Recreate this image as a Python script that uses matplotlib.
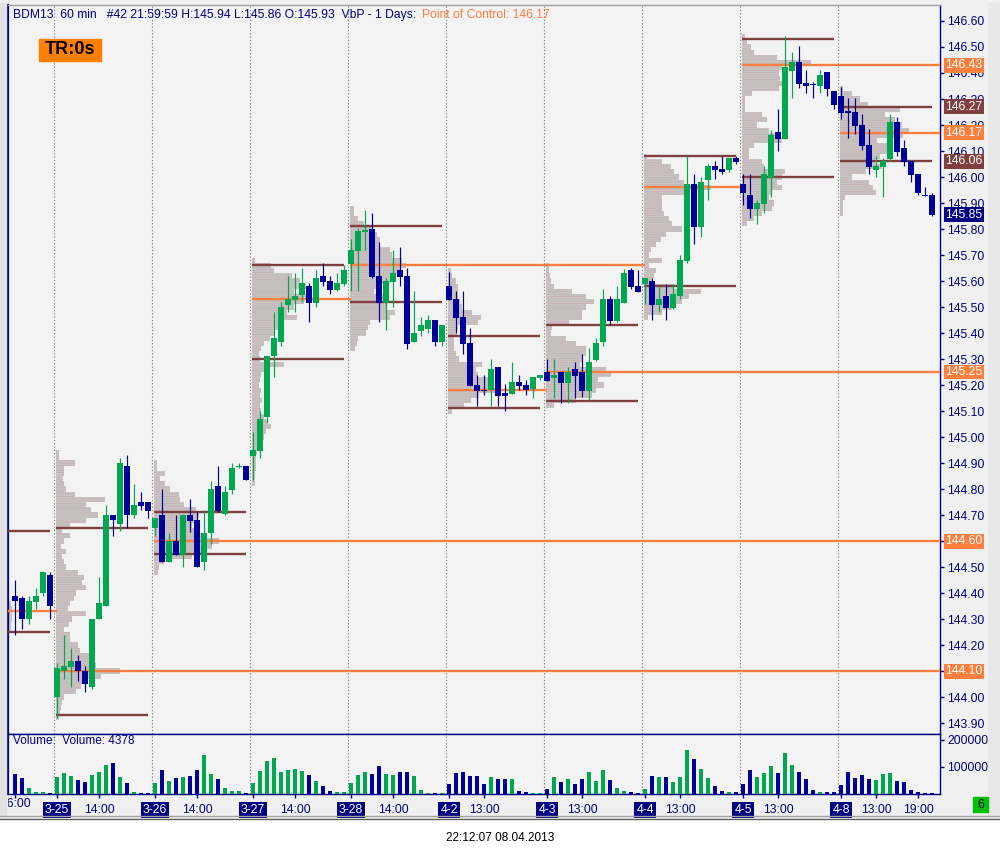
import numpy as np
import matplotlib
matplotlib.use('Agg')
import matplotlib.pyplot as plt
from matplotlib.patches import Rectangle
from matplotlib.transforms import blended_transform_factory, Bbox, TransformedBbox

plt.rcParams['font.family'] = ['Liberation Sans', 'DejaVu Sans']
plt.rcParams['hatch.linewidth'] = 0.5

NAVY = '#000080'
GREEN = '#00a650'
BLUE = '#000099'
ORANGE = '#ff7f3f'
BROWN = '#7f3f3f'
PROFILE = '#c4c4c4'
PINK = '#ceb0b0'

# ---- data -------------------------------------------------------------
days = ['3-25', '3-26', '3-27', '3-28', '4-2', '4-3', '4-4', '4-5', '4-8']
pre_bars = 6          # 16:00-21:00 of the previous session
bars_per_day = 14     # 8:00-21:00

# hourly OHLC, pre-session then 14 bars per day
open_ = [144.39, 144.38, 144.30, 144.365, 144.40, 144.47,
         144.00, 144.10, 144.115, 144.14, 144.10, 144.04, 144.30, 144.35, 144.70, 144.665, 144.89, 144.70, 144.75, 144.75,
         144.65, 144.70, 144.52, 144.60, 144.545, 144.70, 144.68, 144.52, 144.63, 144.81, 144.705, 144.795, 144.885, 144.89,
         144.927, 144.946, 145.077, 145.31, 145.365, 145.508, 145.527, 145.546, 145.581, 145.515, 145.619, 145.60, 145.565, 145.588,
         145.665, 145.715, 145.79, 145.80, 145.619, 145.515, 145.596, 145.642, 145.619, 145.365, 145.408, 145.415, 145.45, 145.365,
         145.581, 145.531, 145.462, 145.362, 145.20, 145.181, 145.181, 145.269, 145.169, 145.165, 145.212, 145.20, 145.185, 145.227,
         145.25, 145.227, 145.25, 145.208, 145.262, 145.25, 145.177, 145.296, 145.365, 145.531, 145.446, 145.515, 145.642, 145.581,
         145.588, 145.60, 145.508, 145.542, 145.496, 145.542, 145.677, 145.973, 145.808, 145.988, 146.042, 146.031, 146.027, 146.073,
         145.973, 145.931, 145.877, 145.896, 145.996, 146.173, 146.146, 146.408, 146.442, 146.362, 146.356, 146.35, 146.404, 146.331,
         146.312, 146.252, 146.25, 146.20, 146.123, 146.027, 146.038, 146.069, 146.212, 146.112, 146.062, 146.012, 145.932, 145.93]
high = [144.45, 144.39, 144.39, 144.42, 144.48, 144.48,
        144.13, 144.24, 144.19, 144.16, 144.12, 144.30, 144.46, 144.74, 144.70, 144.92, 144.93, 144.82, 144.79, 144.75,
        144.69, 144.80, 144.63, 144.70, 144.70, 144.76, 144.715, 144.72, 144.83, 144.89, 144.81, 144.90, 144.90, 144.89,
        145.02, 145.10, 145.31, 145.48, 145.52, 145.62, 145.63, 145.65, 145.592, 145.642, 145.669, 145.619, 145.631, 145.662,
        145.762, 145.804, 145.873, 145.862, 145.75, 145.612, 145.719, 145.731, 145.65, 145.562, 145.462, 145.469, 145.45, 145.431,
        145.635, 145.562, 145.562, 145.419, 145.238, 145.238, 145.30, 145.269, 145.204, 145.288, 145.238, 145.219, 145.231, 145.238,
        145.30, 145.30, 145.25, 145.269, 145.288, 145.319, 145.342, 145.381, 145.569, 145.542, 145.581, 145.646, 145.65, 145.642,
        145.612, 145.612, 145.577, 145.588, 145.588, 145.70, 146.081, 146.012, 146.00, 146.05, 146.062, 146.081, 146.073, 146.081,
        146.012, 146.012, 145.912, 146.042, 146.181, 146.262, 146.542, 146.481, 146.504, 146.412, 146.365, 146.412, 146.404, 146.331,
        146.346, 146.304, 146.304, 146.242, 146.185, 146.081, 146.073, 146.242, 146.231, 146.142, 146.062, 146.012, 145.962, 145.94]
low = [144.24, 144.26, 144.28, 144.34, 144.39, 144.30,
       143.92, 144.07, 144.04, 144.06, 144.02, 144.03, 144.30, 144.35, 144.62, 144.64, 144.65, 144.69, 144.72, 144.69,
       144.62, 144.52, 144.52, 144.545, 144.50, 144.635, 144.50, 144.49, 144.59, 144.71, 144.70, 144.78, 144.88, 144.835,
       144.835, 144.92, 145.054, 145.23, 145.35, 145.48, 145.48, 145.52, 145.442, 145.50, 145.581, 145.55, 145.562, 145.581,
       145.562, 145.562, 145.719, 145.612, 145.442, 145.412, 145.50, 145.581, 145.338, 145.365, 145.388, 145.40, 145.35, 145.35,
       145.527, 145.40, 145.319, 145.196, 145.119, 145.162, 145.119, 145.119, 145.10, 145.165, 145.181, 145.162, 145.15, 145.219,
       145.215, 145.15, 145.131, 145.131, 145.15, 145.154, 145.142, 145.292, 145.35, 145.431, 145.442, 145.515, 145.569, 145.558,
       145.512, 145.45, 145.481, 145.45, 145.492, 145.531, 145.669, 145.742, 145.769, 145.912, 145.992, 146.012, 146.019, 146.05,
       145.892, 145.842, 145.819, 145.862, 145.923, 146.10, 146.146, 146.304, 146.342, 146.323, 146.304, 146.323, 146.312, 146.262,
       146.223, 146.15, 146.165, 146.104, 146.012, 146.00, 145.923, 146.062, 146.081, 146.042, 145.981, 145.931, 145.927, 145.85]
close = [144.37, 144.30, 144.37, 144.39, 144.48, 144.35,
         144.11, 144.12, 144.14, 144.10, 144.05, 144.30, 144.36, 144.70, 144.68, 144.90, 144.70, 144.74, 144.735, 144.715,
         144.69, 144.52, 144.60, 144.545, 144.70, 144.677, 144.50, 144.63, 144.80, 144.715, 144.79, 144.88, 144.89, 144.835,
         144.95, 145.07, 145.31, 145.38, 145.50, 145.531, 145.542, 145.592, 145.515, 145.612, 145.596, 145.565, 145.592, 145.642,
         145.719, 145.792, 145.795, 145.615, 145.515, 145.60, 145.631, 145.615, 145.358, 145.40, 145.431, 145.45, 145.365, 145.431,
         145.527, 145.458, 145.358, 145.196, 145.177, 145.177, 145.262, 145.158, 145.158, 145.212, 145.196, 145.181, 145.231, 145.238,
         145.215, 145.238, 145.208, 145.25, 145.235, 145.177, 145.288, 145.362, 145.531, 145.446, 145.531, 145.631, 145.577, 145.558,
         145.612, 145.508, 145.531, 145.496, 145.55, 145.681, 145.973, 145.808, 145.981, 146.042, 146.027, 146.019, 146.073, 146.058,
         145.938, 145.877, 145.90, 146.012, 146.162, 146.146, 146.423, 146.442, 146.358, 146.35, 146.352, 146.392, 146.338, 146.277,
         146.246, 146.248, 146.196, 146.119, 146.038, 146.042, 146.062, 146.212, 146.096, 146.058, 146.008, 145.938, 145.928, 145.855]
volume = [74500, 58100, 24000, 8800, 8800, 5100,
          61900, 77000, 66900, 50500, 42900, 69500, 80800, 108600, 114900, 61900, 40400, 8800, 5100, 5100,
          40400, 88400, 46700, 58100, 61900, 66900, 88400, 145200, 74500, 54300, 24000, 12600, 11400, 5100,
          40400, 84600, 122500, 133900, 80800, 89700, 92200, 84600, 69500, 46700, 27800, 12600, 8800, 8800,
          40400, 69500, 80800, 74500, 103600, 74500, 69500, 80800, 80800, 65700, 16400, 5100, 5100, 5100,
          35400, 78300, 80800, 65700, 65700, 35400, 61900, 54300, 54300, 54300, 12600, 8800, 5100, 5100,
          20200, 61900, 42900, 54300, 35400, 54300, 80800, 46700, 88400, 50500, 24000, 12600, 8800, 5100,
          20200, 65700, 61900, 61900, 42900, 61900, 164200, 130100, 92200, 58100, 27800, 12600, 8800, 8800,
          35400, 88400, 61900, 77000, 103600, 77000, 152800, 107400, 80800, 54300, 16400, 8800, 8800, 8800,
          31600, 80800, 58100, 69500, 54300, 50500, 73300, 77000, 46700, 42900, 16400, 8800, 5100, 4378]

# volume at price per session, 0.02 steps downward from the top price
vap_step = 0.02
vap_pre_top = 144.36
vap_pre = [3, 4, 4, 4, 3, 3]
vap_top = [144.94, 144.90, 145.68, 145.88, 145.64, 145.66, 146.08, 146.54, 146.34]
vap_0325 = [3, 3, 19, 8, 8, 7, 8, 10, 19, 49, 30, 35, 42, 30, 14, 6, 14, 8, 5, 10, 6, 8, 10, 22, 28, 26,
            30, 20, 18, 14, 12, 30, 16, 13, 8, 14, 14, 22, 24, 33, 38, 40, 64, 45, 30, 25, 20, 8, 6, 5, 4, 3]
vap_0326 = [3, 3, 11, 6, 11, 16, 25, 26, 30, 42, 45, 44, 38, 40, 48, 65, 58, 50, 38, 10, 5, 4]
vap_0327 = [3, 19, 22, 40, 48, 54, 42, 56, 52, 42, 35, 45, 32, 28, 22, 18, 12, 9, 7, 8, 32, 12,
            9, 8, 7, 9, 8, 10, 8, 9, 12, 15, 19, 14, 12, 10, 8, 5, 4, 4, 4, 3, 3, 3]
vap_0328 = [4, 4, 8, 14, 22, 27, 30, 30, 40, 42, 52, 56, 50, 46, 40, 26, 24, 36, 37, 37, 45, 40, 20, 18, 16, 8, 7, 5]
vap_0402 = [3, 4, 8, 10, 10, 10, 12, 14, 24, 33, 30, 10, 9, 6, 6, 6, 8, 11, 34, 28, 30, 40, 44, 48, 31, 23, 16, 4]
vap_0403 = [3, 3, 4, 5, 8, 26, 40, 48, 40, 36, 36, 23, 6, 5, 20, 30, 40, 40, 36, 34, 60, 65, 52, 58, 50, 46, 30, 8]
vap_0404 = [3, 18, 27, 30, 35, 40, 67, 40, 18, 18, 18, 20, 25, 28, 38, 22, 17, 12, 7, 5, 18, 5, 12, 10, 8, 30,
            57, 45, 38, 28, 18, 4]
vap_0405 = [3, 5, 9, 12, 35, 69, 40, 37, 38, 40, 37, 10, 3, 3, 3, 20, 25, 15, 27, 35, 40, 12, 7, 7, 20, 22,
            43, 40, 35, 40, 30, 27, 32, 30, 20, 12, 5]
vap_0408 = [3, 12, 20, 28, 60, 45, 55, 62, 69, 63, 37, 48, 52, 40, 35, 42, 26, 12, 29, 33, 36, 5, 3, 3, 3]
vap_days = [vap_0325, vap_0326, vap_0327, vap_0328, vap_0402, vap_0403, vap_0404, vap_0405, vap_0408]
vap_units_per_bar = 7.0

# point of control and value area per session
pre_poc, pre_vah, pre_val = 144.33, 144.64, 144.25
poc = [144.10, 144.60, 145.53, 145.66, 145.18, 145.25, 145.96, 146.43, 146.17]
vah = [144.65, 144.71, 145.66, 145.81, 145.39, 145.43, 146.08, 146.53, 146.27]
val = [143.93, 144.55, 145.30, 145.52, 145.11, 145.14, 145.58, 146.00, 146.06]
poc_until = [None, None, 3, 6, 5, None, 7, None, None]   # session where the POC was touched again

time_labels = [['14:00'], ['14:00'], ['14:00'], ['14:00'], ['13:00'], ['13:00'], ['13:00'], ['13:00'], ['13:00', '19:00']]
time_offsets = [[6], [6], [6], [6], [5], [5], [5], [5], [5, 11]]

# ---- figure -----------------------------------------------------------
W, H = 1000, 856
fig = plt.figure(figsize=(W / 100, H / 100), dpi=100, facecolor='#f0f0f0')


def fx(px):
    return px / W


def fy(py):
    return 1 - py / H


fig.patches.append(Rectangle((0, 0), 1, fy(819), transform=fig.transFigure, color='white', zorder=0))
fig.lines.append(plt.Line2D([0, 1], [fy(816), fy(816)], transform=fig.transFigure, color='#a0a0a0', lw=1))
fig.lines.append(plt.Line2D([0, 1], [fy(819), fy(819)], transform=fig.transFigure, color='#606060', lw=1))
fig.patches.append(Rectangle((0, fy(816)), fx(6), fy(3) - fy(816), transform=fig.transFigure,
                             color='#e2e2e2', zorder=0))
fig.patches.append(Rectangle((fx(988), fy(816)), fx(12), fy(3) - fy(816), transform=fig.transFigure,
                             color='#e8e8e8', zorder=0))

ax = fig.add_axes([fx(8), fy(734), fx(940) - fx(8), fy(5) - fy(734)])
axv = fig.add_axes([fx(8), fy(794), fx(940) - fx(8), fy(734) - fy(794)], sharex=ax)
for a in (ax, axv):
    a.set_facecolor('#f3f3f3')
    for sp in a.spines.values():
        sp.set_color(NAVY)
        sp.set_linewidth(1)
    a.spines['left'].set_linewidth(1.6)
ax.spines['top'].set_color('#a0a0a0')

o = np.array(open_)
h = np.array(high)
l = np.array(low)
c = np.array(close)
idx = np.arange(len(c))
cols = np.where(c >= o, GREEN, BLUE)
starts = [pre_bars + bars_per_day * d for d in range(len(days))]
x_right = 132.14

# volume profiles
pre_prices = vap_pre_top - vap_step * np.arange(len(vap_pre))
ax.barh(pre_prices, np.array(vap_pre) / vap_units_per_bar, left=-1.0, height=vap_step,
        color=PROFILE, zorder=2, linewidth=0)
for d, vap in enumerate(vap_days):
    prices = vap_top[d] - vap_step * np.arange(len(vap))
    widths = np.array(vap) / vap_units_per_bar
    ax.barh(prices, widths, left=starts[d] - 0.1, height=vap_step, facecolor=PROFILE,
            edgecolor=PINK, hatch='-------', linewidth=0, zorder=2)

# value area and point of control lines
ax.hlines([pre_vah, pre_val], -1.0, 5.0, color=BROWN, lw=1.7, zorder=3)
ax.hlines(pre_poc, -1.0, 6.0, color=ORANGE, lw=1.7, zorder=3)
for d in range(len(days)):
    s = starts[d]
    ax.hlines([vah[d], val[d]], s - 0.1, s + 13, color=BROWN, lw=1.7, zorder=3)
    end = x_right if poc_until[d] is None else starts[poc_until[d]]
    ax.hlines(poc[d], s - 0.1, end, color=ORANGE, lw=1.7, zorder=3)

# candles
ax.vlines(idx, l, h, colors=cols, lw=0.85, zorder=4)
ax.bar(idx, np.maximum(np.abs(c - o), 0.004), bottom=np.minimum(o, c), width=0.72,
       color=cols, zorder=5, linewidth=0)

# volume bars
axv.bar(idx, volume, width=0.62, color=cols, linewidth=0, zorder=3)

# session separators
for s in starts:
    for a in (ax, axv):
        a.axvline(s - 0.4, color='#808080', lw=0.8, ls=(0, (1.2, 1.8)), zorder=1)

ax.set_xlim(-1.0, x_right)
ax.set_ylim(143.858, 146.6615)
axv.set_ylim(0, 222000)

# right price scale
ax.yaxis.tick_right()
yt = np.round(np.arange(143.9, 146.61, 0.1), 2)
ax.set_yticks(yt)
ax.set_yticklabels([f'{v:.2f}' for v in yt])
ax.tick_params(axis='y', colors=NAVY, labelsize=8.7, length=3, width=1, pad=2)
ax.tick_params(axis='x', bottom=False, labelbottom=False)

axv.yaxis.tick_right()
axv.set_yticks([100000, 200000])
axv.set_yticklabels(['100000', '200000'])
axv.tick_params(axis='y', colors=NAVY, labelsize=8.7, length=3, width=1, pad=2)

# price markers on the scale
tr = blended_transform_factory(ax.transAxes, ax.transData)
markers = [(poc[7], ORANGE), (vah[8], BROWN), (poc[8], ORANGE), (val[8], BROWN),
           (close[-1], NAVY), (poc[5], ORANGE), (poc[1], ORANGE), (poc[0], ORANGE)]
for v, col in markers:
    ax.text(1 + 5 / 932, v, f'{v:.2f}', transform=tr, ha='left', va='center', color='white',
            fontsize=8.7, clip_on=False, zorder=10,
            bbox=dict(boxstyle='square,pad=0.12', fc=col, ec='none'))

# time axis
tick_pos, tick_lab, tick_date = [0], [''], [False]
for d, day in enumerate(days):
    tick_pos.append(starts[d])
    tick_lab.append(day)
    tick_date.append(True)
    for lab, off in zip(time_labels[d], time_offsets[d]):
        tick_pos.append(starts[d] + off)
        tick_lab.append(lab)
        tick_date.append(False)
axv.set_xticks(tick_pos)
axv.set_xticklabels(tick_lab)
axv.tick_params(axis='x', colors=NAVY, labelsize=8.7, length=3, width=1, pad=4)
for lab, is_date in zip(axv.get_xticklabels(), tick_date):
    if is_date:
        lab.set_color('white')
        lab.set_bbox(dict(boxstyle='square,pad=0.15', fc=NAVY, ec='none'))
    else:
        lab.set_color(NAVY)
t16 = axv.text(0, -0.07, '16:00', transform=blended_transform_factory(axv.transData, axv.transAxes),
               ha='center', va='top', fontsize=8.7, color=NAVY)
t16.set_clip_box(TransformedBbox(Bbox([[0, -1], [1, 1]]), axv.transAxes))
t16.set_clip_on(True)

# texts
fig.text(fx(13), fy(15), 'BDM13  60 min   #42 21:59:59 H:145.94 L:145.86 O:145.93  VbP - 1 Days:',
         color=NAVY, fontsize=8.7, va='center')
fig.text(fx(422), fy(15), f'Point of Control: {poc[8]:.2f}', color=ORANGE, fontsize=8.7, va='center')
fig.patches.append(Rectangle((fx(39), fy(61)), fx(62), fy(39) - fy(61), transform=fig.transFigure,
                             color='#ff8000', zorder=5))
fig.text(fx(70), fy(50), 'TR:0s', color='black', fontsize=13, fontweight='bold', ha='center', va='center',
         zorder=6)
axv.text(fx(5) / (fx(932)), 0.88, f'Volume:  Volume: {volume[-1]}', transform=axv.transAxes,
         color=NAVY, fontsize=8.5, va='center')
fig.patches.append(Rectangle((fx(973), fy(812)), fx(15), fy(797) - fy(812), transform=fig.transFigure,
                             color='#00c000', zorder=5))
fig.text(fx(980.5), fy(804.5), '6', color='#000060', fontsize=8.7, ha='center', va='center', zorder=6)
fig.text(0.5, fy(838), '22:12:07 08.04.2013', color='black', fontsize=8.5, ha='center', va='center')

fig.savefig('out.png', dpi=100, facecolor=fig.get_facecolor())
